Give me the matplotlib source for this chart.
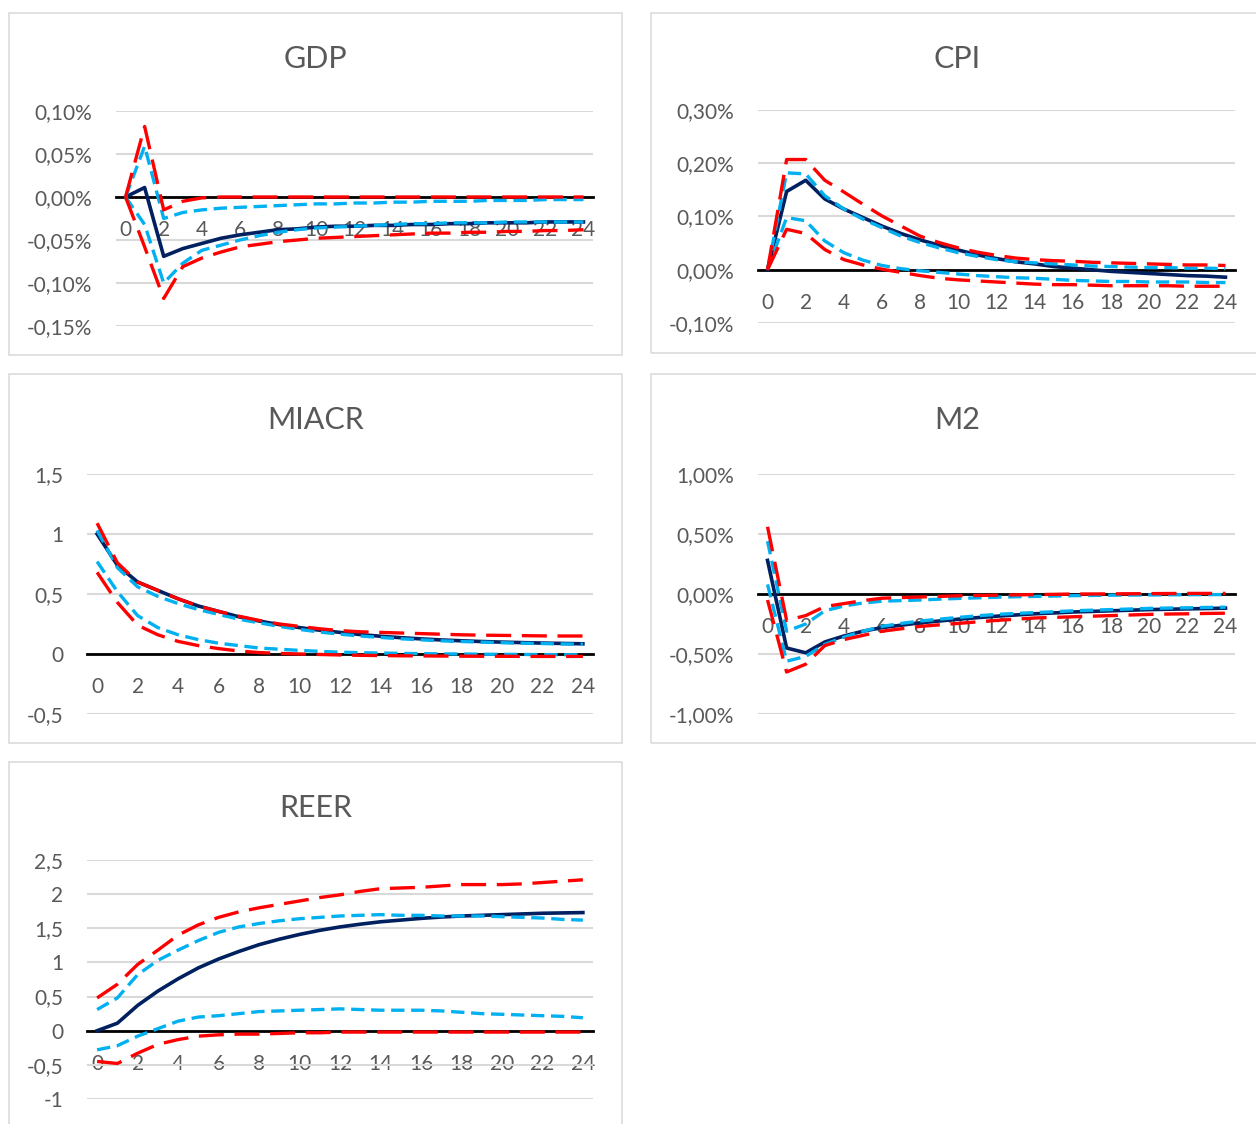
import matplotlib
matplotlib.use("Agg")
import matplotlib.pyplot as plt
from matplotlib.patches import Rectangle
from matplotlib.ticker import FuncFormatter

plt.rcParams['font.family'] = ['Lato', 'DejaVu Sans']

# Horizon (quarters after the shock)
horizon = list(range(25))
xtick_labels = [str(h) for h in range(0, 25, 2)]

# GDP response, %
gdp_irf = [0.000, 0.011, -0.069, -0.060, -0.054, -0.048, -0.044, -0.041, -0.038, -0.037, -0.035, -0.034,
           -0.034, -0.033, -0.033, -0.032, -0.032, -0.031, -0.031, -0.030, -0.030, -0.030, -0.029, -0.029, -0.029]
gdp_hi68 = [0.000, 0.059, -0.025, -0.018, -0.015, -0.013, -0.012, -0.011, -0.010, -0.009, -0.008, -0.008,
            -0.007, -0.007, -0.006, -0.006, -0.005, -0.005, -0.005, -0.004, -0.004, -0.004, -0.003, -0.003, -0.003]
gdp_lo68 = [0.000, -0.032, -0.100, -0.077, -0.062, -0.056, -0.050, -0.045, -0.041, -0.038, -0.036, -0.035,
            -0.034, -0.033, -0.032, -0.031, -0.031, -0.030, -0.030, -0.030, -0.029, -0.029, -0.029, -0.029, -0.029]
gdp_hi90 = [0.000, 0.082, -0.015, -0.005, -0.001, 0.000, 0.000, 0.000, 0.000, 0.000, 0.000, 0.000,
            0.000, 0.000, 0.000, 0.000, 0.000, 0.000, 0.000, 0.000, 0.000, 0.000, 0.000, 0.000, 0.000]
gdp_lo90 = [0.000, -0.058, -0.118, -0.081, -0.071, -0.064, -0.058, -0.055, -0.052, -0.050, -0.048, -0.047,
            -0.046, -0.045, -0.044, -0.043, -0.042, -0.042, -0.041, -0.041, -0.040, -0.040, -0.039, -0.039, -0.038]

# CPI response, %
cpi_irf = [0.000, 0.147, 0.168, 0.133, 0.114, 0.098, 0.082, 0.068, 0.056, 0.046, 0.037, 0.028,
           0.021, 0.015, 0.011, 0.006, 0.003, 0.000, -0.003, -0.005, -0.007, -0.009, -0.011, -0.012, -0.014]
cpi_hi68 = [0.000, 0.182, 0.180, 0.139, 0.114, 0.095, 0.079, 0.063, 0.051, 0.041, 0.032, 0.025,
            0.019, 0.015, 0.013, 0.011, 0.009, 0.007, 0.006, 0.005, 0.004, 0.004, 0.003, 0.003, 0.002]
cpi_lo68 = [0.000, 0.098, 0.092, 0.054, 0.032, 0.018, 0.008, 0.002, -0.002, -0.005, -0.008, -0.011,
            -0.013, -0.015, -0.016, -0.018, -0.020, -0.021, -0.022, -0.022, -0.023, -0.023, -0.023, -0.024, -0.024]
cpi_hi90 = [0.000, 0.207, 0.207, 0.168, 0.146, 0.123, 0.101, 0.082, 0.063, 0.051, 0.041, 0.033,
            0.027, 0.022, 0.019, 0.017, 0.016, 0.014, 0.013, 0.012, 0.011, 0.010, 0.009, 0.009, 0.008]
cpi_lo90 = [0.000, 0.076, 0.068, 0.038, 0.019, 0.009, 0.001, -0.005, -0.011, -0.016, -0.019, -0.021,
            -0.023, -0.025, -0.027, -0.028, -0.028, -0.029, -0.030, -0.030, -0.030, -0.030, -0.031, -0.031, -0.031]

# MIACR response, p.p.
miacr_irf = [1.00, 0.74, 0.60, 0.53, 0.46, 0.40, 0.355, 0.31, 0.275, 0.245, 0.22, 0.198,
             0.18, 0.162, 0.148, 0.136, 0.126, 0.117, 0.110, 0.104, 0.099, 0.095, 0.091, 0.088, 0.085]
miacr_hi68 = [1.03, 0.72, 0.56, 0.48, 0.42, 0.37, 0.33, 0.29, 0.26, 0.23, 0.205, 0.183,
              0.165, 0.15, 0.138, 0.127, 0.118, 0.110, 0.104, 0.099, 0.094, 0.090, 0.087, 0.084, 0.082]
miacr_lo68 = [0.77, 0.52, 0.32, 0.22, 0.16, 0.12, 0.09, 0.07, 0.05, 0.04, 0.03, 0.022,
              0.015, 0.011, 0.008, 0.005, 0.003, 0.001, 0.000, -0.002, -0.003, -0.004, -0.005, -0.006, -0.006]
miacr_hi90 = [1.09, 0.76, 0.60, 0.53, 0.46, 0.40, 0.355, 0.315, 0.28, 0.25, 0.23, 0.21,
              0.195, 0.185, 0.18, 0.175, 0.17, 0.165, 0.16, 0.157, 0.155, 0.153, 0.151, 0.15, 0.15]
miacr_lo90 = [0.68, 0.43, 0.24, 0.16, 0.105, 0.07, 0.045, 0.025, 0.012, 0.005, 0.000, -0.004,
              -0.008, -0.011, -0.013, -0.015, -0.016, -0.017, -0.018, -0.019, -0.019, -0.020, -0.020, -0.020, -0.020]

# M2 response, %
m2_irf = [0.28, -0.45, -0.49, -0.40, -0.35, -0.31, -0.28, -0.26, -0.24, -0.225, -0.21, -0.197,
          -0.185, -0.175, -0.165, -0.158, -0.150, -0.145, -0.140, -0.135, -0.130, -0.127, -0.124, -0.121, -0.118]
m2_hi68 = [0.44, -0.31, -0.25, -0.14, -0.10, -0.075, -0.060, -0.055, -0.050, -0.043, -0.037, -0.032,
           -0.027, -0.023, -0.020, -0.017, -0.014, -0.012, -0.010, -0.009, -0.008, -0.007, -0.006, -0.005, -0.005]
m2_lo68 = [0.08, -0.56, -0.52, -0.42, -0.36, -0.31, -0.27, -0.245, -0.225, -0.21, -0.195, -0.182,
           -0.170, -0.162, -0.155, -0.148, -0.140, -0.135, -0.130, -0.125, -0.120, -0.117, -0.115, -0.112, -0.110]
m2_hi90 = [0.56, -0.22, -0.18, -0.105, -0.08, -0.055, -0.035, -0.030, -0.025, -0.020, -0.015, -0.012,
           -0.010, -0.007, -0.005, -0.003, 0.000, 0.000, 0.001, 0.002, 0.003, 0.004, 0.005, 0.005, 0.005]
m2_lo90 = [-0.05, -0.65, -0.585, -0.43, -0.38, -0.345, -0.31, -0.29, -0.27, -0.257, -0.245, -0.232,
           -0.22, -0.21, -0.20, -0.195, -0.19, -0.185, -0.18, -0.175, -0.17, -0.167, -0.165, -0.162, -0.16]

# REER response, %
reer_irf = [0.00, 0.11, 0.37, 0.58, 0.76, 0.92, 1.05, 1.16, 1.26, 1.34, 1.41, 1.47,
            1.52, 1.56, 1.595, 1.62, 1.645, 1.665, 1.68, 1.69, 1.70, 1.71, 1.72, 1.725, 1.73]
reer_hi68 = [0.31, 0.48, 0.82, 1.03, 1.18, 1.32, 1.44, 1.52, 1.57, 1.61, 1.64, 1.66,
             1.68, 1.69, 1.70, 1.69, 1.69, 1.68, 1.68, 1.68, 1.67, 1.66, 1.65, 1.63, 1.62]
reer_lo68 = [-0.28, -0.22, -0.08, 0.03, 0.14, 0.20, 0.22, 0.25, 0.28, 0.29, 0.30, 0.31,
             0.32, 0.31, 0.30, 0.30, 0.30, 0.29, 0.27, 0.25, 0.24, 0.23, 0.22, 0.21, 0.19]
reer_hi90 = [0.48, 0.68, 0.97, 1.18, 1.40, 1.55, 1.66, 1.74, 1.80, 1.85, 1.90, 1.95,
             1.99, 2.04, 2.08, 2.09, 2.10, 2.12, 2.14, 2.14, 2.14, 2.15, 2.17, 2.19, 2.21]
reer_lo90 = [-0.45, -0.48, -0.33, -0.20, -0.13, -0.08, -0.06, -0.05, -0.05, -0.04, -0.03, -0.03,
             -0.02, -0.02, -0.02, -0.02, -0.02, -0.02, -0.02, -0.02, -0.02, -0.02, -0.02, -0.02, -0.02]

W, H = 1256, 1124
TEXT = '#595959'
GRID = '#D9D9D9'
NAVY = '#002060'
CYAN = '#00B0F0'
RED = '#FF0000'

fig = plt.figure(figsize=(W / 100, H / 100), dpi=100)


def frame(x0, y0, x1, y1):
    fig.patches.append(Rectangle((x0 / W, 1 - y1 / H), (x1 - x0) / W, (y1 - y0) / H,
                                 transform=fig.transFigure, fill=False,
                                 edgecolor=GRID, linewidth=1.1, clip_on=False))


def pct_fmt(v, _):
    return ('%.2f%%' % v).replace('.', ',')


def num_fmt(v, _):
    s = ('%.1f' % v).rstrip('0').rstrip('.')
    return s.replace('.', ',')


def panel(title, box, area, ylim, yticks, fmt, irf, hi68, lo68, hi90, lo90):
    bx0, by0, bx1, by1 = box
    frame(bx0, by0, bx1, by1)
    # chart boxes are 613 px wide; the title sits centred in each
    fig.text((bx0 + 613 / 2) / W, 1 - (by0 + 46) / H, title,
             ha='center', va='center', fontsize=22, color=TEXT)
    x0, x1, yt, yb = area
    ax = fig.add_axes([x0 / W, 1 - yb / H, (x1 - x0) / W, (yb - yt) / H])
    ax.set_facecolor('none')
    ax.set_xlim(-0.5, 24.5)
    ax.set_ylim(*ylim)
    ax.set_yticks(yticks)
    ax.yaxis.set_major_formatter(FuncFormatter(fmt))
    ax.grid(axis='y', color=GRID, linewidth=1.5, zorder=0)
    ax.set_axisbelow(True)
    for s in ('top', 'right', 'left'):
        ax.spines[s].set_visible(False)
    ax.spines['bottom'].set_position(('data', 0))
    ax.spines['bottom'].set_color('black')
    ax.spines['bottom'].set_linewidth(2.0)
    ax.spines['bottom'].set_zorder(1.5)
    ax.set_xticks(range(0, 25, 2))
    ax.set_xticklabels(xtick_labels)
    ax.tick_params(axis='x', length=0, pad=16.5, labelsize=15, labelcolor=TEXT)
    ax.tick_params(axis='y', length=0, pad=17, labelsize=15, labelcolor=TEXT)

    ax.plot(horizon, irf, color=NAVY, linewidth=2.6, zorder=3)
    ax.plot(horizon, hi68, color=CYAN, linewidth=2.4, dashes=(4, 2), zorder=3)
    ax.plot(horizon, lo68, color=CYAN, linewidth=2.4, dashes=(4, 2), zorder=3)
    ax.plot(horizon, hi90, color=RED, linewidth=2.4, dashes=(7.5, 3.2), zorder=3)
    ax.plot(horizon, lo90, color=RED, linewidth=2.4, dashes=(7.5, 3.2), zorder=3)
    return ax


panel('GDP', (9, 13, 622, 355), (116, 593, 111, 326), (-0.15, 0.10),
      [-0.15, -0.10, -0.05, 0.0, 0.05, 0.10], pct_fmt,
      gdp_irf, gdp_hi68, gdp_lo68, gdp_hi90, gdp_lo90)
panel('CPI', (651, 13, 1270, 353), (758, 1235, 110, 323), (-0.10, 0.30),
      [-0.10, 0.0, 0.10, 0.20, 0.30], pct_fmt,
      cpi_irf, cpi_hi68, cpi_lo68, cpi_hi90, cpi_lo90)
panel('MIACR', (9, 374, 622, 743), (87, 593, 474, 714), (-0.5, 1.5),
      [-0.5, 0, 0.5, 1, 1.5], num_fmt,
      miacr_irf, miacr_hi68, miacr_lo68, miacr_hi90, miacr_lo90)
panel('M2', (651, 374, 1270, 743), (758, 1235, 474, 714), (-1.0, 1.0),
      [-1.0, -0.5, 0.0, 0.5, 1.0], pct_fmt,
      m2_irf, m2_hi68, m2_lo68, m2_hi90, m2_lo90)
panel('REER', (9, 762, 622, 1140), (87, 593, 860, 1099), (-1.0, 2.5),
      [-1, -0.5, 0, 0.5, 1, 1.5, 2, 2.5], num_fmt,
      reer_irf, reer_hi68, reer_lo68, reer_hi90, reer_lo90)

fig.savefig('out.png', dpi=100, facecolor='white')
